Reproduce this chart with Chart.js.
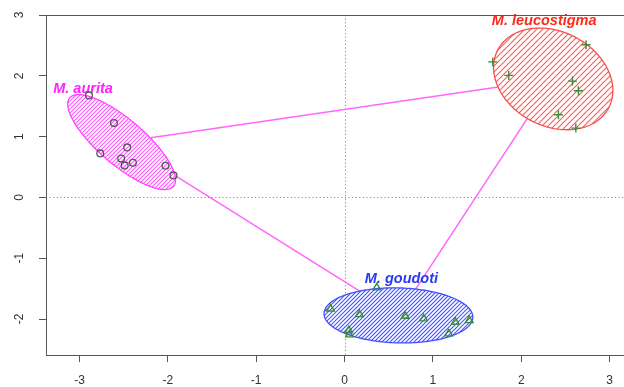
<!DOCTYPE html>
<html>
<head>
<meta charset="utf-8">
<script src="https://cdn.jsdelivr.net/npm/chart.js@4.4.1/dist/chart.umd.min.js"></script>
<style>
  html, body { margin: 0; padding: 0; background: #ffffff; }
  #wrap { width: 624px; height: 387px; }
</style>
</head>
<body>
<div id="wrap"><canvas id="c" width="624" height="387"></canvas></div>
<script>
// Group names
const groups = ['M. aurita', 'M. leucostigma', 'M. goudoti'];

// Individual scores per group
const auritaX = [-2.893, -2.610, -2.765, -2.460, -2.528, -2.489, -2.395, -2.026, -1.936];
const auritaY = [1.678, 1.222, 0.724, 0.822, 0.641, 0.526, 0.571, 0.521, 0.362];

const leucoX = [2.734, 1.678, 1.859, 2.580, 2.647, 2.421, 2.618];
const leucoY = [2.511, 2.229, 2.007, 1.913, 1.755, 1.360, 1.140];

const goudotiX = [0.365, -0.158, 0.169, 0.686, 0.896, 1.254, 1.412, 1.179, 0.049, 0.056];
const goudotiY = [-1.485, -1.831, -1.924, -1.952, -1.995, -2.051, -2.023, -2.242, -2.188, -2.258];

// Group centres (ellipse centres, joined by the connecting segments)
const centerX = [-2.523, 2.362, 0.610];
const centerY = [0.910, 1.949, -1.941];

// Ellipse conjugate semi-axes, in data units
const axisAX = [0.587, 0.629, 0.842];
const axisAY = [-0.727, -0.473, -0.032];
const axisBX = [-0.166, -0.245, -0.008];
const axisBY = [-0.285, -0.690, -0.452];

// Axis tick values
const xTicks = [-3, -2, -1, 0, 1, 2, 3];
const yTicks = [-2, -1, 0, 1, 2, 3];

// step = horizontal distance between hatch lines (px)
const groupStyle = [
  { edge: '#ff44ff', hatch: '#ff5cff', text: '#ff22ff', step: 4, hw: 1.15 },
  { edge: '#ff4a4a', hatch: '#ff5a5a', text: '#ff2a1a', step: 6, hw: 1.1 },
  { edge: '#3f4fff', hatch: '#4a5aff', text: '#2b3af0', step: 4, hw: 1.15 }
];
const labelAnchor = [
  { x: -2.96, y: 1.72 },
  { x: 2.26, y: 2.84 },
  { x: 0.644, y: -1.41 }
];
const FONT = '"Liberation Sans", Arial, sans-serif';

function toPts(xs, ys) { return xs.map((x, i) => ({ x: x, y: ys[i] })); }

const pairs = [[0, 1], [0, 2], [1, 2]];

const biplotPlugin = {
  id: 'biplot',
  beforeDatasetsDraw(chart) {
    const ctx = chart.ctx, sx = chart.scales.x, sy = chart.scales.y, a = chart.chartArea;
    const right = chart.width;
    ctx.save();
    ctx.beginPath();
    ctx.rect(a.left, a.top, right - a.left, a.bottom - a.top);
    ctx.clip();

    // dotted reference lines through the origin
    ctx.strokeStyle = '#8c8c8c';
    ctx.lineWidth = 1;
    ctx.setLineDash([1.2, 2.4]);
    const x0 = Math.round(sx.getPixelForValue(0)) + 0.5;
    const y0 = Math.round(sy.getPixelForValue(0)) + 0.5;
    ctx.beginPath();
    ctx.moveTo(x0, a.top); ctx.lineTo(x0, a.bottom);
    ctx.moveTo(a.left, y0); ctx.lineTo(right, y0);
    ctx.stroke();
    ctx.setLineDash([]);

    // segments joining the group centres
    ctx.strokeStyle = '#ff66ff';
    ctx.lineWidth = 1.5;
    pairs.forEach(([i, j]) => {
      ctx.beginPath();
      ctx.moveTo(sx.getPixelForValue(centerX[i]), sy.getPixelForValue(centerY[i]));
      ctx.lineTo(sx.getPixelForValue(centerX[j]), sy.getPixelForValue(centerY[j]));
      ctx.stroke();
    });

    // hatched group ellipses
    groups.forEach((g, k) => {
      const cx = sx.getPixelForValue(centerX[k]);
      const cy = sy.getPixelForValue(centerY[k]);
      const ax = sx.getPixelForValue(centerX[k] + axisAX[k]) - cx;
      const ay = sy.getPixelForValue(centerY[k] + axisAY[k]) - cy;
      const bx = sx.getPixelForValue(centerX[k] + axisBX[k]) - cx;
      const by = sy.getPixelForValue(centerY[k] + axisBY[k]) - cy;
      const st = groupStyle[k];

      const path = new Path2D();
      const n = 180;
      for (let s = 0; s <= n; s++) {
        const t = (s / n) * Math.PI * 2;
        const px = cx + ax * Math.cos(t) + bx * Math.sin(t);
        const py = cy + ay * Math.cos(t) + by * Math.sin(t);
        if (s === 0) path.moveTo(px, py); else path.lineTo(px, py);
      }
      path.closePath();

      ctx.fillStyle = '#ffffff';
      ctx.fill(path);

      ctx.save();
      ctx.clip(path);
      const x1 = Math.floor(cx - Math.abs(ax) - Math.abs(bx) - 4);
      const x2 = Math.ceil(cx + Math.abs(ax) + Math.abs(bx) + 4);
      const y1 = Math.floor(cy - Math.abs(ay) - Math.abs(by) - 4);
      const y2 = Math.ceil(cy + Math.abs(ay) + Math.abs(by) + 4);
      ctx.strokeStyle = st.hatch;
      ctx.lineWidth = st.hw;
      ctx.beginPath();
      for (let kk = x1 + y1; kk <= x2 + y2; kk += st.step) {
        ctx.moveTo(x1, kk - x1);
        ctx.lineTo(x2, kk - x2);
      }
      ctx.stroke();
      ctx.restore();

      ctx.strokeStyle = st.edge;
      ctx.lineWidth = 1.3;
      ctx.stroke(path);
    });
    ctx.restore();

    // group names
    ctx.save();
    ctx.font = 'italic bold 14.5px ' + FONT;
    ctx.textAlign = 'center';
    ctx.textBaseline = 'alphabetic';
    groups.forEach((g, k) => {
      ctx.fillStyle = groupStyle[k].text;
      ctx.fillText(g, sx.getPixelForValue(labelAnchor[k].x), sy.getPixelForValue(labelAnchor[k].y));
    });
    ctx.restore();
  },
  afterDraw(chart) {
    const ctx = chart.ctx, sy = chart.scales.y, a = chart.chartArea;
    ctx.save();
    // top and bottom edges of the plot frame, running to the canvas edge
    ctx.strokeStyle = '#555555';
    ctx.lineWidth = 1;
    ctx.beginPath();
    ctx.moveTo(a.left, Math.round(a.top) + 0.5);
    ctx.lineTo(chart.width, Math.round(a.top) + 0.5);
    ctx.moveTo(a.right - 1, Math.round(a.bottom) + 0.5);
    ctx.lineTo(chart.width, Math.round(a.bottom) + 0.5);
    ctx.stroke();
    // vertical y tick labels
    ctx.fillStyle = '#333333';
    ctx.font = '12px ' + FONT;
    ctx.textAlign = 'center';
    ctx.textBaseline = 'middle';
    yTicks.forEach(v => {
      ctx.save();
      ctx.translate(20, sy.getPixelForValue(v));
      ctx.rotate(-Math.PI / 2);
      ctx.fillText(String(v), 0, 0);
      ctx.restore();
    });
    ctx.restore();
  }
};

new Chart(document.getElementById('c'), {
  type: 'scatter',
  data: {
    datasets: [
      {
        label: groups[0],
        data: toPts(auritaX, auritaY),
        pointStyle: 'circle',
        pointRadius: 3.4,
        pointBorderWidth: 1.3,
        borderColor: '#525c52',
        backgroundColor: 'rgba(0,0,0,0)'
      },
      {
        label: groups[1],
        data: toPts(leucoX, leucoY),
        pointStyle: 'cross',
        pointRadius: 4.5,
        pointBorderWidth: 1.4,
        borderColor: '#3a8a3a',
        backgroundColor: 'rgba(0,0,0,0)'
      },
      {
        label: groups[2],
        data: toPts(goudotiX, goudotiY),
        pointStyle: 'triangle',
        pointRadius: 4.4,
        pointBorderWidth: 1.4,
        borderColor: '#3a8a3a',
        backgroundColor: 'rgba(0,0,0,0)'
      }
    ]
  },
  options: {
    responsive: false,
    animation: false,
    devicePixelRatio: 1,
    layout: { padding: { left: 0, right: 0, top: 15, bottom: 0 } },
    plugins: { legend: { display: false }, tooltip: { enabled: false } },
    scales: {
      x: {
        type: 'linear',
        min: -3.379,
        max: 3.085,
        afterBuildTicks: s => { s.ticks = xTicks.map(v => ({ value: v })); },
        afterFit: s => { s.height = 32; },
        grid: { drawOnChartArea: false, drawTicks: true, tickLength: 7, color: '#555555' },
        border: { display: true, color: '#555555', width: 1 },
        ticks: {
          color: '#333333',
          font: { family: FONT, size: 12 },
          padding: 11,
          maxRotation: 0,
          autoSkip: false
        }
      },
      y: {
        type: 'linear',
        min: -2.592,
        max: 3.0,
        afterBuildTicks: s => { s.ticks = yTicks.map(v => ({ value: v })); },
        afterFit: s => { s.width = 46; },
        grid: { drawOnChartArea: false, drawTicks: true, tickLength: 7, color: '#555555' },
        border: { display: true, color: '#555555', width: 1 },
        ticks: { callback: () => '', padding: 0 }
      }
    }
  },
  plugins: [biplotPlugin]
});
</script>
</body>
</html>
